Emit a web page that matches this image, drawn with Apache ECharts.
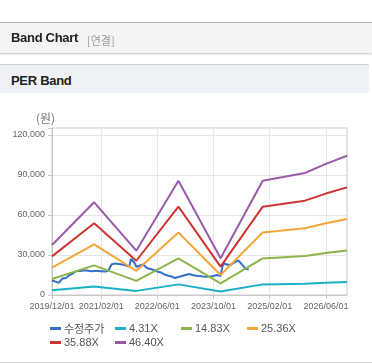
<!DOCTYPE html>
<html>
<head>
<meta charset="utf-8">
<script src="https://cdn.jsdelivr.net/npm/echarts@6/dist/echarts.min.js"></script>
<style>
  html, body { margin: 0; padding: 0; background: #fff; width: 372px; height: 364px; overflow: hidden; font-family: "Liberation Sans", "Noto Sans CJK KR", sans-serif; }
  #bar1 { position: absolute; left: 0; top: 22px; width: 372px; height: 30px; background: #f4f4f4; border-top: 1px solid #b5b5b5; box-shadow: 0 1px 2px rgba(0,0,0,0.25); z-index: 2; }
  #bar1 .t { position: absolute; left: 11px; top: 7px; font-size: 13px; font-weight: bold; color: #222; letter-spacing: -0.3px; }
  #bar1 .s { position: absolute; left: 87px; top: 9px; font-size: 11px; color: #999; font-family: "Noto Sans CJK KR", sans-serif; }
  #bar2 { position: absolute; left: 0; top: 64px; width: 369px; height: 28px; background: #eef2f7; border-top: 1px solid #d0d0d0; z-index: 2; }
  #bar2 .t { position: absolute; left: 11px; top: 8px; font-size: 13px; font-weight: bold; color: #222; letter-spacing: -0.3px; }
  #bottom { position: absolute; left: 0; top: 362px; width: 372px; height: 1px; background: #d5d5d5; z-index: 2; }
  #chart { position: absolute; left: 0; top: 0; width: 372px; height: 364px; z-index: 1; }
</style>
</head>
<body>
<div id="bar1"><span class="t">Band Chart</span><span class="s">[연결]</span></div>
<div id="bar2"><span class="t">PER Band</span></div>
<div id="bottom"></div>
<div id="chart"></div>
<script>
// Semi-monthly categories from 2019/12/01 to 2026/12/01
const categories = [];
for (let m = 0; m <= 84; m++) {
  const y = 2019 + Math.floor((11 + m) / 12);
  const mo = ((11 + m) % 12) + 1;
  const mm = String(mo).padStart(2, '0');
  categories.push(y + '/' + mm + '/01');
  if (m < 84) categories.push(y + '/' + mm + '/16');
}
const labelIdx = [0, 28, 60, 92, 124, 156]; // 2019/12, 2021/02, 2022/06, 2023/10, 2025/02, 2026/06

const seriesNames = ['수정주가', '4.31X', '14.83X', '25.36X', '35.88X', '46.40X'];
const colors = ['#3470c9', '#1ab0c6', '#8cb54b', '#f4a63a', '#cf3530', '#9a5ba6'];

// Band key points (category indices)
const bandIdx = [0, 24, 48, 72, 96, 120, 144, 156, 168];
const per431  = [3483, 6456, 3086, 7961, 2556, 7961, 8499, 9137, 9700];
const per1483 = [11983, 22215, 10618, 27391, 8794, 27391, 29245, 31440, 33368];
const per2536 = [20491, 37989, 18158, 46840, 15038, 46840, 50010, 53763, 57060];
const per3588 = [28991, 53748, 25690, 66270, 21277, 66270, 70755, 76066, 80730];
const per4640 = [37491, 69507, 33222, 85701, 27515, 85701, 91501, 98368, 104400];

// Adjusted price
const priceIdx = [0,2,4,5,6,8,10,12,14,16,18,20,22,24,26,28,30,32,33,34,36,38,40,42,44,45,46,47,48,50,52,54,56,58,60,62,64,66,68,70,72,74,76,78,80,82,84,86,88,90,92,94,96,97,98,100,102,104,106,108,110,112];
const priceVals = [10900,10000,9200,9300,12400,12750,15000,16300,18000,18000,18400,18400,17800,18000,18000,17800,17600,18000,19500,23000,23600,23250,22900,22100,21400,27000,28100,24000,21200,22100,22900,20250,19500,18750,17600,16900,15400,14600,13900,12750,13500,14250,15000,15750,15000,14500,14250,13900,13700,13900,14250,15000,14250,21400,23800,22700,22900,24400,26000,23250,19900,19100];

const yTicks = [0, 30000, 60000, 90000, 120000];

function pairs(idx, vals) { return idx.map((x, i) => [x, vals[i]]); }
const seriesData = [
  pairs(priceIdx, priceVals),
  pairs(bandIdx, per431),
  pairs(bandIdx, per1483),
  pairs(bandIdx, per2536),
  pairs(bandIdx, per3588),
  pairs(bandIdx, per4640)
];

const legendPos = [[50, 323], [115, 323], [181, 323], [247, 323], [50, 337], [115, 337]];

const chart = echarts.init(document.getElementById('chart'), null, { renderer: 'canvas' });
chart.setOption({
  animation: false,
  color: colors,
  textStyle: { fontFamily: 'Liberation Sans' },
  grid: { left: 52, right: 25, top: 128, bottom: 69, show: true, borderColor: '#c8c8c8', borderWidth: 1, backgroundColor: 'transparent' },
  legend: seriesNames.map((n, i) => ({
    data: [n], left: legendPos[i][0], top: legendPos[i][1],
    icon: 'rect', itemWidth: 11, itemHeight: 3, itemGap: 0,
    textStyle: { fontSize: 11, color: '#555', fontFamily: n === '수정주가' ? 'Noto Sans CJK KR' : 'Liberation Sans', padding: [0, 0, 0, -2] },
    padding: 0, selectedMode: false
  })),
  graphic: [{ type: 'text', left: 36, top: 112, style: { text: '(원)', fontSize: 12, fill: '#777', fontFamily: 'Noto Sans CJK KR' } }],
  xAxis: {
    type: 'category', data: categories, boundaryGap: false,
    axisLine: { lineStyle: { color: '#c8c8c8' } },
    axisTick: { show: true, length: 4, lineStyle: { color: '#c8c8c8' }, interval: (i) => labelIdx.includes(i) },
    axisLabel: { interval: (i) => labelIdx.includes(i), fontSize: 9, color: '#666', margin: 7, hideOverlap: false },
    splitLine: { show: true, interval: (i) => labelIdx.includes(i), lineStyle: { color: '#e6e6e6' } }
  },
  yAxis: {
    type: 'value', min: 0, max: 125250, interval: 30000,
    axisLine: { show: true, lineStyle: { color: '#c8c8c8' } },
    axisTick: { show: true, length: 4, lineStyle: { color: '#c8c8c8' } },
    axisLabel: { fontSize: 9, color: '#666', margin: 7, formatter: (v) => yTicks.includes(v) ? v.toLocaleString('en-US') : '' },
    splitLine: { show: true, lineStyle: { color: '#e6e6e6' } }
  },
  series: seriesNames.map((n, i) => ({
    name: n, type: 'line', data: seriesData[i], showSymbol: false, symbol: 'none',
    lineStyle: { width: 2, color: colors[i] }, itemStyle: { color: colors[i] }
  }))
});
</script>
</body>
</html>
